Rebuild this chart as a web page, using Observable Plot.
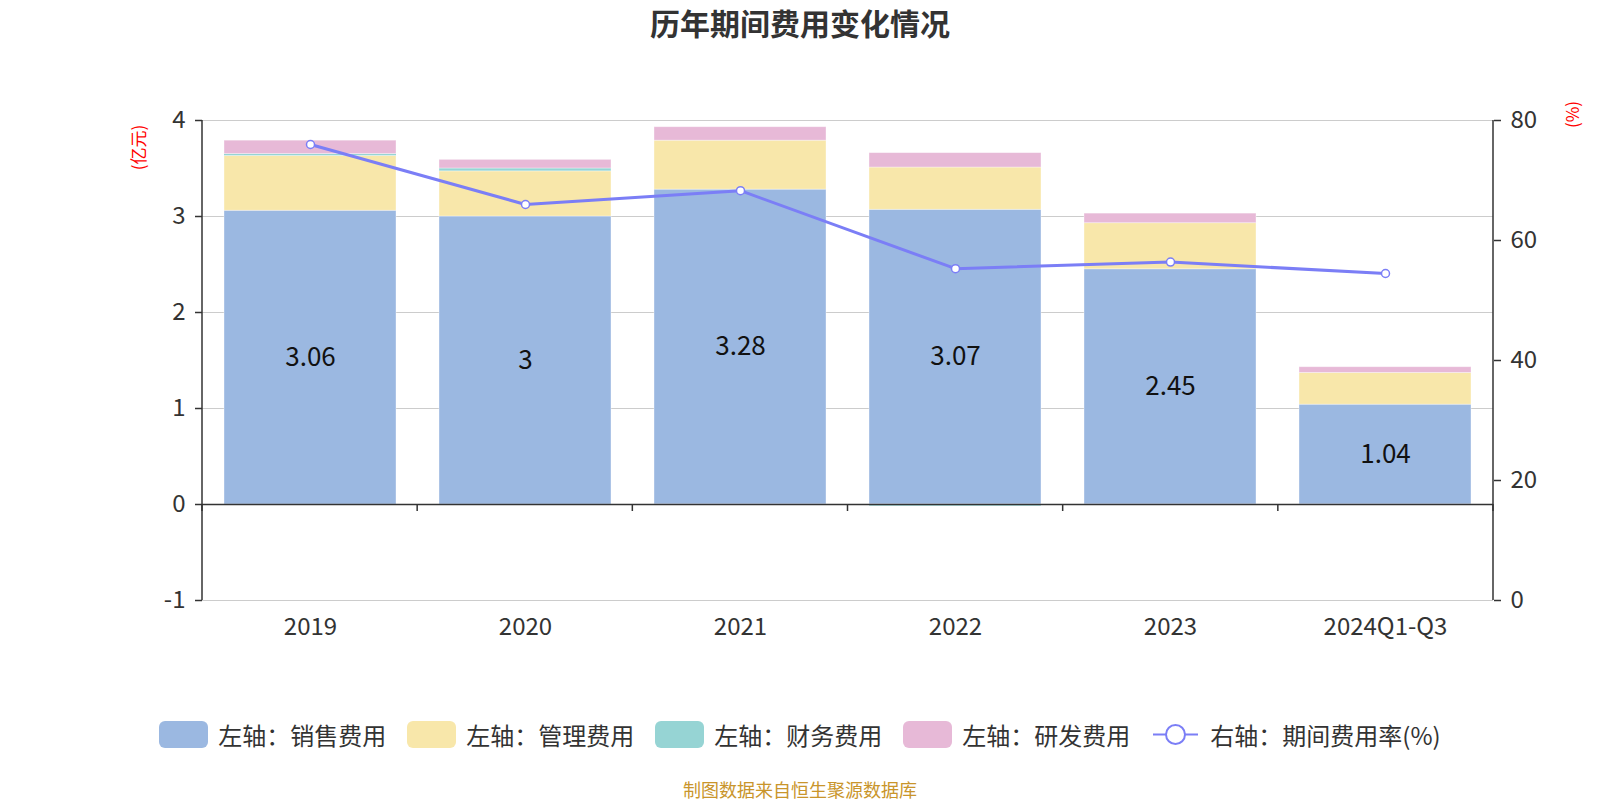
<!DOCTYPE html>
<html>
<head>
<meta charset="utf-8">
<script src="https://cdn.jsdelivr.net/npm/d3@7"></script>
<script src="https://cdn.jsdelivr.net/npm/@observablehq/plot@0.6"></script>
<style>
  html, body { margin: 0; padding: 0; background: #fff; }
  body { width: 1600px; height: 800px; position: relative; overflow: hidden;
         font-family: "Noto Sans CJK SC", "Noto Sans", sans-serif; color: #333; }
  #title { position: absolute; top: 2px; left: 0; width: 1600px; text-align: center;
           font-size: 30px; font-weight: bold; color: #333; line-height: 40px; }
  #chart { position: absolute; top: 0; left: 0; }
  #legend { position: absolute; top: 717px; left: 0; width: 1600px; display: flex;
            justify-content: center; align-items: center; gap: 21px; font-size: 24px; color: #333; }
  .item { display: flex; align-items: center; gap: 10px; }
  .sw { width: 49px; height: 27px; border-radius: 6px; }
  #caption { position: absolute; top: 777px; left: 0; width: 1600px; text-align: center;
             font-size: 18px; color: #c9952b; line-height: 24px; }
</style>
</head>
<body>
<div id="title">历年期间费用变化情况</div>
<div id="chart"></div>
<div id="legend"></div>
<div id="caption">制图数据来自恒生聚源数据库</div>
<script>
// ---- data ----
const years = ["2019", "2020", "2021", "2022", "2023", "2024Q1-Q3"];
const sales = [3.06, 3.00, 3.28, 3.07, 2.45, 1.04];
const admin = [0.57, 0.47, 0.51, 0.44, 0.48, 0.33];
const finance = [0.02, 0.03, -0.01, -0.02, -0.01, -0.01];
const rd = [0.14, 0.09, 0.14, 0.15, 0.10, 0.06];
const rate = [76.0, 66.0, 68.3, 55.3, 56.4, 54.5];
const seriesNames = ["左轴：销售费用", "左轴：管理费用", "左轴：财务费用", "左轴：研发费用"];
const lineName = "右轴：期间费用率(%)";
const leftTicks = [-1, 0, 1, 2, 3, 4];
const rightTicks = [0, 20, 40, 60, 80];
const leftUnit = "(亿元)";
const rightUnit = "(%)";
const colors = ["#9bb8e1", "#f8e7aa", "#96d4d4", "#e7b9d7"];
const lineColor = "#7b7ef6";

// ---- derived ----
const seriesValues = [sales, admin, finance, rd];
const stacked = [];
seriesNames.forEach((s, j) => years.forEach((y, i) => stacked.push({year: y, series: s, value: seriesValues[j][i]})));
const lDom = [leftTicks[0], leftTicks[leftTicks.length - 1]];
const rDom = [rightTicks[0], rightTicks[rightTicks.length - 1]];
const toLeft = r => lDom[0] + (r - rDom[0]) / (rDom[1] - rDom[0]) * (lDom[1] - lDom[0]);
const fromLeft = v => rDom[0] + (v - lDom[0]) / (lDom[1] - lDom[0]) * (rDom[1] - rDom[0]);
const lineData = years.map((y, i) => ({year: y, v: toLeft(rate[i])}));
const labelData = years.map((y, i) => ({year: y, v: sales[i] / 2, t: String(sales[i])}));

const W = 1600, H = 660, ML = 202, MR = 107, MT = 120, MB = 60;
const PIN = 0.2, POUT = 0.1;

// axis lines and category-boundary ticks
function axisLines(index, scales, values, dimensions) {
  const {width, height, marginLeft, marginRight, marginTop, marginBottom} = dimensions;
  const g = d3.create("svg:g").attr("stroke", "#333").attr("stroke-width", 1.5);
  const xl = marginLeft, xr = width - marginRight;
  g.append("line").attr("x1", xl).attr("x2", xl).attr("y1", marginTop).attr("y2", height - marginBottom);
  g.append("line").attr("x1", xr).attr("x2", xr).attr("y1", marginTop).attr("y2", height - marginBottom);
  const y0 = scales.y(0);
  const step = (xr - xl) / (years.length - PIN + 2 * POUT);
  for (let k = 0; k <= years.length; k++) {
    let x = xl + step * (POUT - PIN / 2) + k * step;
    if (k === 0) x = xl;
    if (k === years.length) x = xr;
    g.append("line").attr("x1", x).attr("x2", x).attr("y1", y0).attr("y2", y0 + 7);
  }
  return g.node();
}

const chart = Plot.plot({
  width: W, height: H,
  marginLeft: ML, marginRight: MR, marginTop: MT, marginBottom: MB,
  style: {fontFamily: '"Noto Sans CJK SC", "Noto Sans", sans-serif', fontSize: "24px", color: "#333", background: "transparent"},
  x: {domain: years, paddingInner: PIN, paddingOuter: POUT, axis: null},
  y: {domain: lDom, axis: null},
  color: {domain: seriesNames, range: colors},
  marks: [
    Plot.ruleY(leftTicks.filter(d => d !== 0), {stroke: "#cccccc", strokeWidth: 1.2}),
    Plot.barY(stacked, {x: "year", y: "value", fill: "series", order: seriesNames,
                        stroke: "#ffffff", strokeOpacity: 0.45, strokeWidth: 0.8}),
    Plot.ruleY([0], {stroke: "#333", strokeWidth: 1.5}),
    axisLines,
    Plot.text(labelData, {x: "year", y: "v", text: "t", fontSize: 26, fill: "#111"}),
    Plot.line(lineData, {x: "year", y: "v", stroke: lineColor, strokeWidth: 3}),
    Plot.dot(lineData, {x: "year", y: "v", r: 4, fill: "#fff", stroke: lineColor, strokeWidth: 1.5}),
    Plot.axisY(leftTicks, {anchor: "left", tickSize: 7, tickPadding: 10, strokeWidth: 1.5, fontSize: 24,
                           label: null, tickFormat: d => String(d)}),
    Plot.axisY(rightTicks.map(toLeft), {anchor: "right", tickSize: 7, tickPadding: 10, strokeWidth: 1.5, fontSize: 24,
                                         label: null, tickFormat: d => String(Math.round(fromLeft(d)))}),
    Plot.axisX({anchor: "bottom", tickSize: 0, tickPadding: 17, fontSize: 24, label: null}),
    Plot.text([leftUnit], {frameAnchor: "top-left", textAnchor: "middle", dx: -70, dy: 27, rotate: -90, fill: "#f00", fontSize: 17}),
    Plot.text([rightUnit], {frameAnchor: "top-right", textAnchor: "middle", dx: 73, dy: -6, rotate: -90, fill: "#f00", fontSize: 17})
  ]
});
document.getElementById("chart").appendChild(chart);

// ---- legend ----
const legend = document.getElementById("legend");
seriesNames.forEach((s, i) => {
  const it = document.createElement("div");
  it.className = "item";
  it.innerHTML = `<div class="sw" style="background:${colors[i]}"></div><span>${s}</span>`;
  legend.appendChild(it);
});
const li = document.createElement("div");
li.className = "item";
li.innerHTML = `<svg width="49" height="27"><line x1="2" x2="47" y1="13.5" y2="13.5" stroke="${lineColor}" stroke-width="2"/><circle cx="24.5" cy="13.5" r="9.5" fill="#fff" stroke="${lineColor}" stroke-width="2"/></svg><span>${lineName}</span>`;
legend.appendChild(li);
</script>
</body>
</html>
